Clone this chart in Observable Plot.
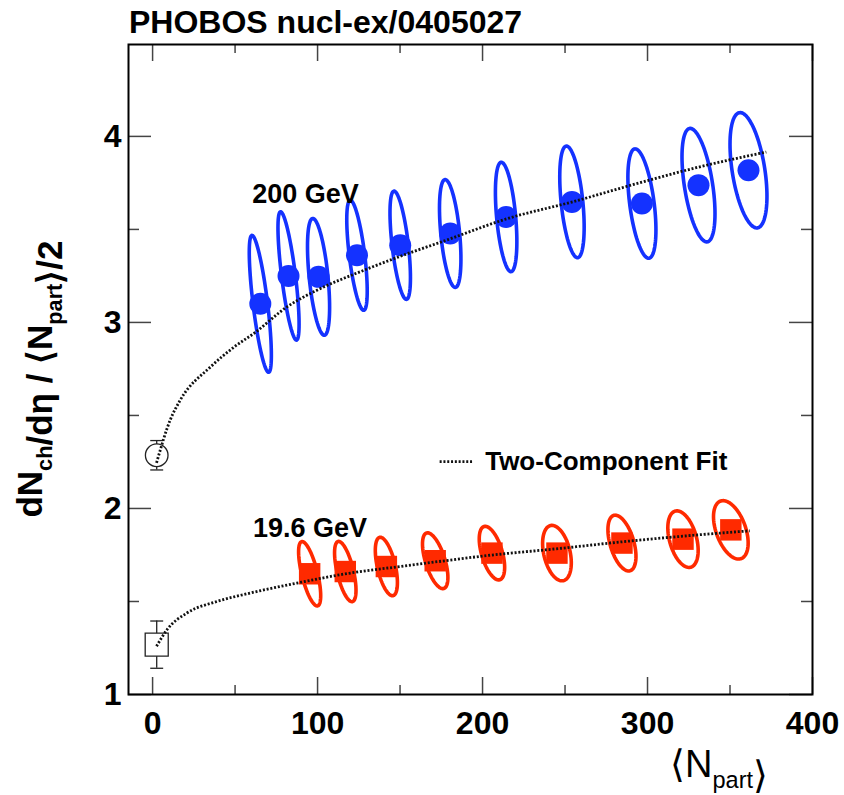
<!DOCTYPE html>
<html><head><meta charset="utf-8">
<script src="https://cdn.jsdelivr.net/npm/d3@7"></script>
<script src="https://cdn.jsdelivr.net/npm/@observablehq/plot@0.6"></script>
<style>
body{margin:0;background:#fff;}
#title{height:40px;padding-left:129px;font:bold 32px "Liberation Sans",Arial,sans-serif;line-height:44px;color:#000;white-space:nowrap;}
#chart svg{display:block;}
</style></head><body>
<div id="title">PHOBOS nucl-ex/0405027</div>
<div id="chart"></div>
<script>
// ---- 200 GeV data (filled circles + systematic error ellipses)
const npart200  = [65.3, 82.4, 100.6, 123.9, 150.1, 180.4, 214.3, 254.2, 296.6, 330.9, 361.2];
const dndeta200 = [3.10, 3.25, 3.245, 3.361, 3.415, 3.478, 3.567, 3.648, 3.639, 3.738, 3.818];
const errN200   = [6.7, 6.4, 6.7, 6.2, 6.2, 6.5, 6.5, 7.4, 8.5, 10.0, 11.2];
const errY200   = [0.368, 0.345, 0.314, 0.296, 0.291, 0.290, 0.294, 0.300, 0.294, 0.305, 0.310];
const corr200   = [-0.75, -0.75, -0.52, -0.65, -0.6, -0.47, -0.45, -0.45, -0.48, -0.5, -0.45];

// ---- 19.6 GeV data (filled squares + ellipses)
const npart19  = [95.2, 116.8, 141.7, 171.3, 205.7, 245.1, 284.5, 321.5, 350.5];
const dndeta19 = [1.649, 1.661, 1.688, 1.719, 1.760, 1.760, 1.814, 1.835, 1.885];
const errN19   = [6.7, 6.5, 6.7, 7.7, 7.7, 8.7, 8.5, 9.2, 10.5];
const errY19   = [0.173, 0.162, 0.157, 0.150, 0.144, 0.149, 0.150, 0.152, 0.157];
const corr19   = [-0.68, -0.62, -0.55, -0.6, -0.53, -0.35, -0.48, -0.4, -0.45];

// ---- p+p(bar) reference points (open markers)
const ppN   = [2.5, 2.5];
const ppY   = [2.286, 1.268];
const ppErr = [0.079, 0.127];

// ---- Two-component fit curves
const fit200N = [2.4, 10.7, 16.8, 35, 49, 62, 81.5, 99.6, 128, 150, 178, 215, 254, 297, 331, 372];
const fit200Y = [2.245, 2.476, 2.583, 2.76, 2.865, 2.945, 3.084, 3.173, 3.28, 3.355, 3.442, 3.558, 3.647, 3.755, 3.835, 3.916];
const fit19N  = [2.4, 8.7, 20.8, 39, 59, 87.5, 120, 150, 180, 201, 249, 281.5, 320, 362];
const fit19Y  = [1.259, 1.348, 1.438, 1.5, 1.545, 1.599, 1.653, 1.688, 1.722, 1.745, 1.787, 1.818, 1.85, 1.88];

// ---- axes
const xTicksMajor = [0, 100, 200, 300, 400];
const xTicksMinor = [50, 150, 250, 350];
const yTicksMajor = [1, 2, 3, 4];
const yTicksMinor = [1.5, 2.5, 3.5];
const xDomain = [-14.6, 400];
const yDomain = [1, 4.494];

// ---- annotations
const labels = [
  {text: "200 GeV", x: 60.4, y: 3.689},
  {text: "19.6 GeV", x: 60.8, y: 1.894}
];
const legendItems = [{label: "Two-Component Fit", x1: 174.3, x2: 194.6, y: 2.252, tx: 201.6}];

const blue = "#1432ff", red = "#ff2a00";
const W = 844, H = 755, mL = 128, mR = 32, mT = 4, mB = 101;
const iw = W - mL - mR, ih = H - mT - mB;

function series(N, Y, EN, EY, R) {
  return N.map((n, i) => ({n, y: Y[i], en: EN[i], ey: EY[i], r: R[i], id: i}));
}
function ellipse(pts) {
  const out = [];
  for (const p of pts) {
    const s = Math.sqrt(1 - p.r * p.r);
    for (let k = 0; k < 90; k++) {
      const t = 2 * Math.PI * k / 90;
      out.push({id: p.id, x: p.n + p.en * Math.cos(t), y: p.y + p.ey * (p.r * Math.cos(t) + s * Math.sin(t))});
    }
  }
  return out;
}
const s200 = series(npart200, dndeta200, errN200, errY200, corr200);
const s19 = series(npart19, dndeta19, errN19, errY19, corr19);
const pp = ppN.map((n, i) => ({n, y: ppY[i], e: ppErr[i]}));
const caps = pp.flatMap(d => [{n: d.n, y: d.y + d.e}, {n: d.n, y: d.y - d.e}]);
const fit200 = fit200N.map((n, i) => ({n, y: fit200Y[i]}));
const fit19 = fit19N.map((n, i) => ({n, y: fit19Y[i]}));

const capSymbol = {draw(ctx, size) { const w = Math.sqrt(size) / 2; ctx.moveTo(-w, 0); ctx.lineTo(w, 0); }};
const dash = {stroke: "#111", strokeWidth: 2.8, strokeDasharray: "2,1.8", strokeLinecap: "butt"};
const tickStyle = {stroke: "#444", strokeWidth: 1.5};
const ppStyle = {fill: "white", stroke: "#222", strokeWidth: 1.3};

const svg = Plot.plot({
  width: W, height: H,
  marginLeft: mL, marginRight: mR, marginTop: mT, marginBottom: mB,
  x: {domain: xDomain, axis: null},
  y: {domain: yDomain, axis: null},
  style: {fontFamily: "'Liberation Sans', Arial, sans-serif", fontSize: "32px", fontWeight: "bold", color: "black", background: "white", overflow: "visible"},
  marks: [
    // ticks (inside frame, mirrored on all four sides)
    Plot.tickX(xTicksMajor, {x: d => d, insetTop: ih - 17, ...tickStyle}),
    Plot.tickX(xTicksMinor, {x: d => d, insetTop: ih - 9, ...tickStyle}),
    Plot.tickX(xTicksMajor, {x: d => d, insetBottom: ih - 17, ...tickStyle}),
    Plot.tickX(xTicksMinor, {x: d => d, insetBottom: ih - 9, ...tickStyle}),
    Plot.tickY(yTicksMajor, {y: d => d, insetRight: iw - 23, ...tickStyle}),
    Plot.tickY(yTicksMinor, {y: d => d, insetRight: iw - 11, ...tickStyle}),
    Plot.tickY(yTicksMajor, {y: d => d, insetLeft: iw - 23, ...tickStyle}),
    Plot.tickY(yTicksMinor, {y: d => d, insetLeft: iw - 11, ...tickStyle}),
    Plot.axisX({ticks: xTicksMajor, tickSize: 0, tickPadding: 17, fontSize: 32, fontWeight: "bold", label: null, tickFormat: d => String(d)}),
    Plot.axisY({ticks: yTicksMajor, tickSize: 0, tickPadding: 7, fontSize: 32, fontWeight: "bold", label: null, tickFormat: d => String(d)}),
    Plot.frame({stroke: "#000", strokeWidth: 2}),
    // 19.6 GeV squares, then ellipses
    Plot.dot(s19, {x: "n", y: "y", symbol: "square", r: 12.1, fill: red}),
    Plot.line(ellipse(s19), {x: "x", y: "y", z: "id", stroke: red, strokeWidth: 3.6, curve: "linear-closed"}),
    // 200 GeV ellipses, then circles
    Plot.line(ellipse(s200), {x: "x", y: "y", z: "id", stroke: blue, strokeWidth: 3.6, curve: "linear-closed"}),
    Plot.dot(s200, {x: "n", y: "y", symbol: "circle", r: 11, fill: blue}),
    // p+p reference points
    Plot.ruleX(pp, {x: "n", y1: d => d.y - d.e, y2: d => d.y + d.e, stroke: "#222", strokeWidth: 1.3}),
    Plot.dot(caps, {x: "n", y: "y", symbol: capSymbol, r: 7.3, stroke: "#222", strokeWidth: 1.3}),
    Plot.dot(pp.slice(0, 1), {x: "n", y: "y", symbol: "circle", r: 11.3, ...ppStyle}),
    Plot.dot(pp.slice(1, 2), {x: "n", y: "y", symbol: "square", r: 13, ...ppStyle}),
    // fits
    Plot.line(fit200, {x: "n", y: "y", curve: "monotone-x", ...dash}),
    Plot.line(fit19, {x: "n", y: "y", curve: "monotone-x", ...dash}),
    // legend
    Plot.ruleY(legendItems, {y: "y", x1: "x1", x2: "x2", ...dash}),
    Plot.text(legendItems, {x: "tx", y: "y", text: "label", textAnchor: "start", lineAnchor: "middle", fontSize: 26, fontWeight: "bold", fill: "black"}),
    // labels
    Plot.text(labels, {x: "x", y: "y", text: "text", textAnchor: "start", lineAnchor: "middle", fontSize: 27, fontWeight: "bold", fill: "black"})
  ]
});

// axis titles with subscripts
const sel = d3.select(svg);
function richText(g, parts, size) {
  for (const p of parts) {
    if (p.sub) {
      g.append("tspan").attr("font-size", size * 0.62).attr("dy", size * 0.28).text(p.t);
      g.append("tspan").attr("font-size", size).attr("dy", -size * 0.28).text("");
    } else {
      g.append("tspan").text(p.t);
    }
  }
}
const ylab = sel.append("text")
  .attr("transform", `translate(42, ${mT + ih / 2 + 10}) rotate(-90)`)
  .attr("text-anchor", "middle").attr("font-size", 35).attr("font-weight", "bold").attr("fill", "black");
richText(ylab, [{t: "dN"}, {t: "ch", sub: true}, {t: "/d\u03B7 / \u27E8N"}, {t: "part", sub: true}, {t: "\u27E9/2"}], 35);

const xlab = sel.append("text")
  .attr("x", 670).attr("y", 737)
  .attr("text-anchor", "start").attr("font-size", 38).attr("font-weight", "normal").attr("fill", "black");
richText(xlab, [{t: "\u27E8N"}, {t: "part", sub: true}, {t: "\u27E9"}], 38);

document.getElementById("chart").appendChild(svg);
</script>
</body></html>
